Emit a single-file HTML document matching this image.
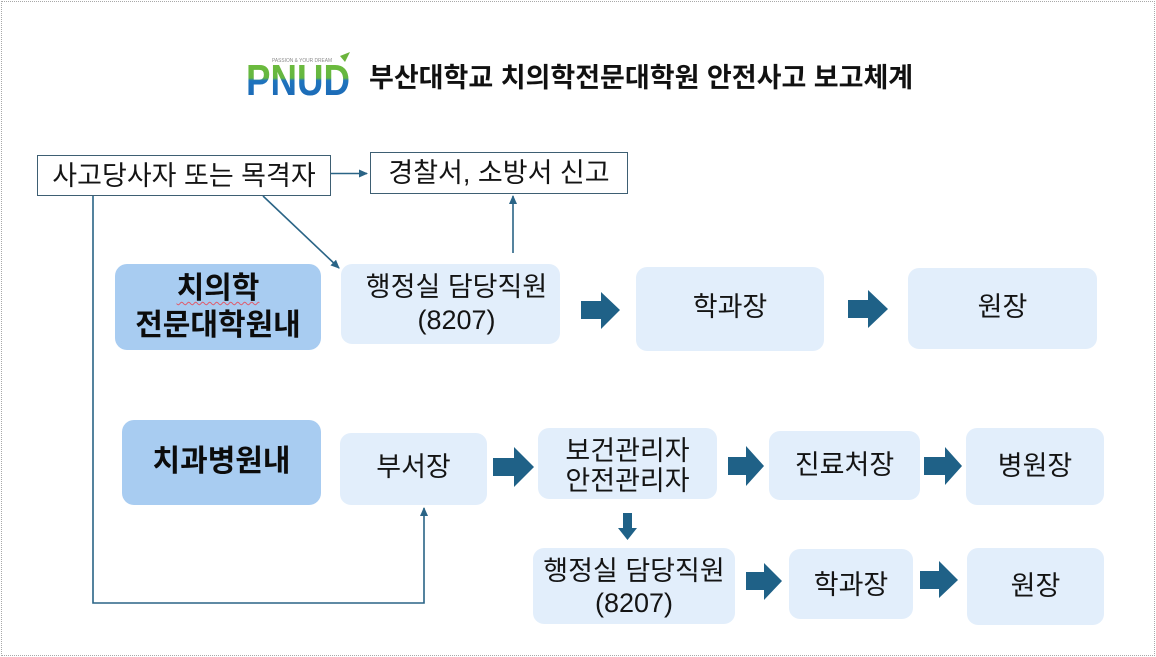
<!DOCTYPE html>
<html>
<head>
<meta charset="utf-8">
<style>
  html,body{margin:0;padding:0;background:#fff;}
  body{width:1156px;height:657px;position:relative;overflow:hidden;
    font-family:"Liberation Sans","Noto Sans CJK KR",sans-serif;color:#141414;}
  .frame{position:absolute;left:1px;top:1px;width:1152px;height:653px;border:1px dotted #a8a8a8;}
  .box{position:absolute;display:flex;align-items:center;justify-content:center;text-align:center;
    box-sizing:border-box;font-size:27px;line-height:32px;white-space:nowrap;}
  .lt{background:#e2eefb;border-radius:11px;}
  .dk{background:#a8ccf1;border-radius:12px;font-weight:bold;font-size:30px;line-height:37px;color:#0c0c0c;}
  .wb{background:#fff;border:1px solid #3e5f73;}
  .title{position:absolute;left:369px;top:59px;font-size:27px;line-height:38px;font-weight:bold;white-space:nowrap;color:#111;}
  svg{position:absolute;left:0;top:0;}
  .sq{text-decoration:underline wavy #e05a6a;text-decoration-thickness:1px;text-underline-offset:3px;}
</style>
</head>
<body>
<div class="frame"></div>

<!-- Logo -->
<svg width="1156" height="657" viewBox="0 0 1156 657">
  <defs>
    <linearGradient id="lg" x1="0" y1="0" x2="0" y2="1">
      <stop offset="0" stop-color="#72be3c"/>
      <stop offset="0.45" stop-color="#63b640"/>
      <stop offset="0.5" stop-color="#1f74be"/>
      <stop offset="1" stop-color="#1a66b3"/>
    </linearGradient>
  </defs>
  <text x="272" y="62" font-family="Liberation Sans, sans-serif" font-size="5" fill="#8a8a8a" textLength="60" lengthAdjust="spacingAndGlyphs">PASSION &amp; YOUR DREAM</text>
  <path d="M340 56 L350 52 L345 62 Z" fill="#6bb43c"/>
  <text x="246" y="95" font-family="Liberation Sans, sans-serif" font-weight="bold" font-size="44" fill="url(#lg)" textLength="104" lengthAdjust="spacingAndGlyphs">PNUD</text>
</svg>

<div class="title">부산대학교 치의학전문대학원 안전사고 보고체계</div>

<!-- top boxes -->
<div class="box wb" style="left:37px;top:155px;width:294px;height:41px;">사고당사자 또는 목격자</div>
<div class="box wb" style="left:370px;top:152px;width:258px;height:42px;">경찰서, 소방서 신고</div>

<!-- row 1 -->
<div class="box dk" style="left:115px;top:264px;width:206px;height:86px;"><div><span class="sq">치의학</span><br>전문대학원내</div></div>
<div class="box lt" style="left:341px;top:264px;width:219px;height:80px;padding-left:12px;line-height:33px;">행정실 담당직원<br>(8207)</div>
<div class="box lt" style="left:636px;top:267px;width:188px;height:84px;padding-bottom:4px;">학과장</div>
<div class="box lt" style="left:908px;top:268px;width:189px;height:81px;padding-bottom:3px;">원장</div>

<!-- row 2 -->
<div class="box dk" style="left:122px;top:420px;width:199px;height:85px;padding-bottom:2px;">치과병원내</div>
<div class="box lt" style="left:340px;top:433px;width:147px;height:72px;padding-bottom:4px;">부서장</div>
<div class="box lt" style="left:538px;top:428px;width:179px;height:71px;line-height:30px;padding-top:4px;">보건관리자<br>안전관리자</div>
<div class="box lt" style="left:769px;top:431px;width:151px;height:69px;padding-bottom:2px;">진료처장</div>
<div class="box lt" style="left:966px;top:428px;width:138px;height:77px;padding-bottom:2px;">병원장</div>

<!-- row 3 -->
<div class="box lt" style="left:533px;top:548px;width:202px;height:76px;line-height:32px;padding-top:2px;">행정실 담당직원<br>(8207)</div>
<div class="box lt" style="left:789px;top:549px;width:124px;height:70px;padding-top:2px;">학과장</div>
<div class="box lt" style="left:967px;top:548px;width:137px;height:77px;padding-bottom:2px;">원장</div>

<!-- connectors -->
<svg width="1156" height="657" viewBox="0 0 1156 657">
  <defs>
    <marker id="ah" markerWidth="10" markerHeight="10" refX="8" refY="5" orient="auto" markerUnits="userSpaceOnUse">
      <path d="M0 1 L9 5 L0 9 Z" fill="#2a6486"/>
    </marker>
  </defs>
  <g stroke="#2a6486" stroke-width="1.6" fill="none">
    <line x1="331" y1="173.5" x2="367" y2="173.5" marker-end="url(#ah)"/>
    <line x1="513" y1="253" x2="513" y2="196" marker-end="url(#ah)"/>
    <line x1="263" y1="196" x2="339" y2="268" marker-end="url(#ah)"/>
    <polyline points="93,196 93,603 424,603 424,508" marker-end="url(#ah)"/>
  </g>
  <g fill="#1f6187">
    <path d="M581 301 L601 301 L601 292 L620 310 L601 329 L601 319 L581 319 Z"/>
    <path d="M848 300 L868 300 L868 290 L888 309 L868 328 L868 318 L848 318 Z"/>
    <path d="M493 458 L514 458 L514 447 L534 467 L514 487 L514 476 L493 476 Z"/>
    <path d="M728 457 L746 457 L746 446 L764 466 L746 486 L746 475 L728 475 Z"/>
    <path d="M924 457 L945 457 L945 447 L962 466 L945 485 L945 475 L924 475 Z"/>
    <path d="M746 572 L764 572 L764 563 L782 581 L764 600 L764 590 L746 590 Z"/>
    <path d="M920 571 L939 571 L939 561 L958 580 L939 598 L939 589 L920 589 Z"/>
    <path d="M623 513 L632 513 L632 528 L637 528 L627.5 540 L618 528 L623 528 Z"/>
  </g>
</svg>
</body>
</html>
